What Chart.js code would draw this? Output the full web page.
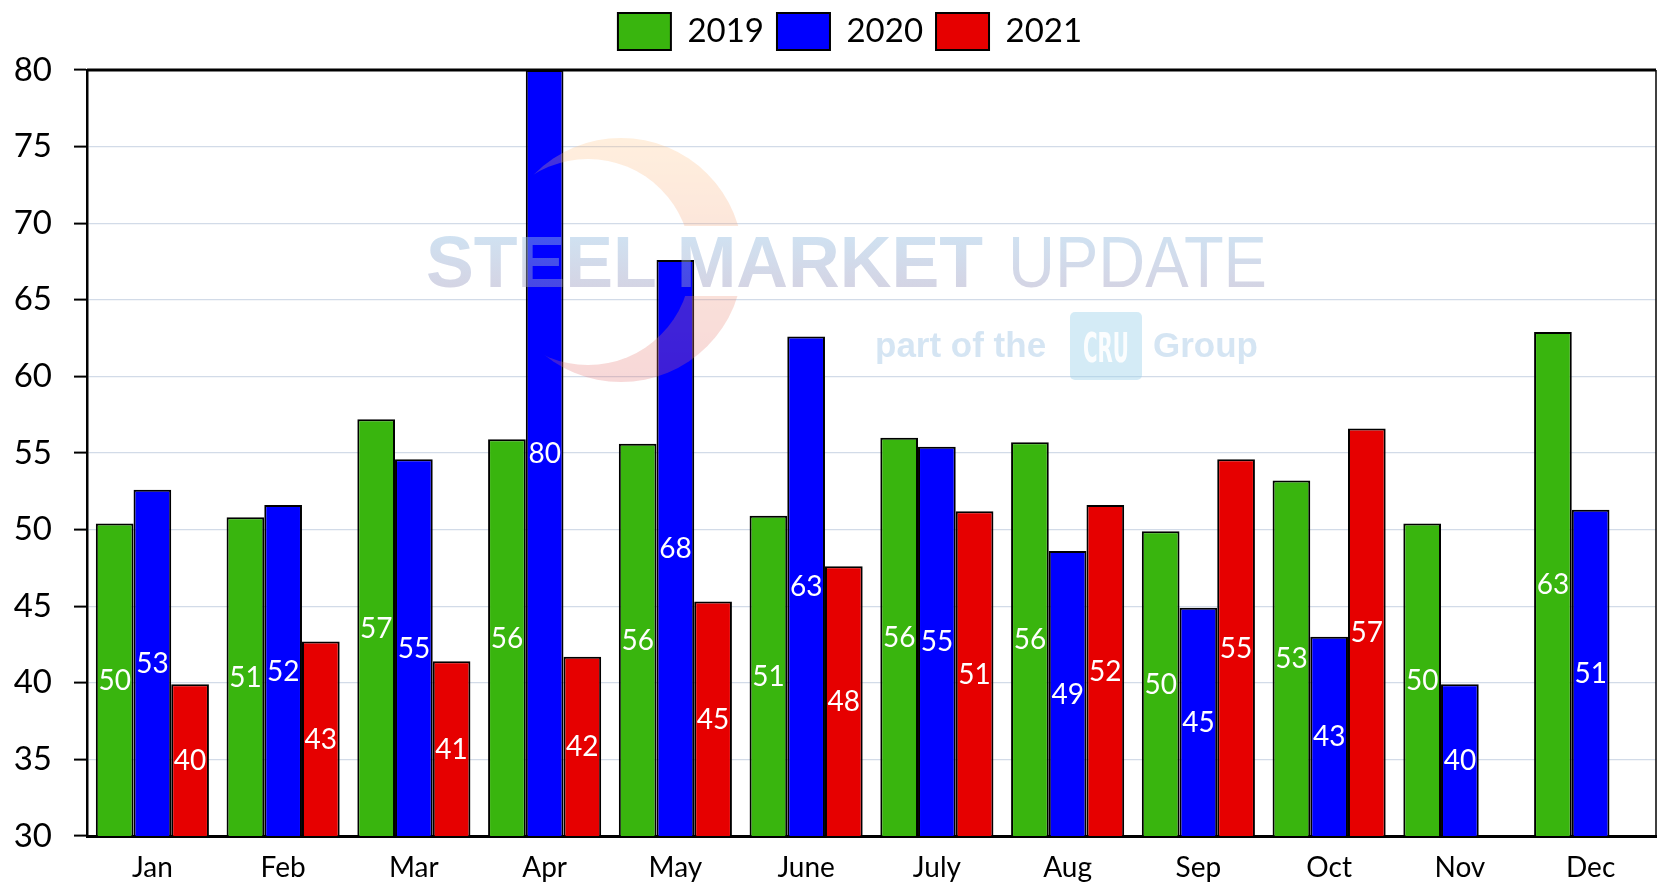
<!DOCTYPE html>
<html>
<head>
<meta charset="utf-8">
<script src="https://cdn.jsdelivr.net/npm/chart.js@4.4.1/dist/chart.umd.min.js"></script>
<style>
  html, body { margin: 0; padding: 0; background: #fff; }
  #wrap { width: 1658px; height: 885px; }
</style>
</head>
<body>
<div id="wrap"><canvas id="salesChart" width="1658" height="885"></canvas></div>
<script>
// chart data
const months = ["Jan", "Feb", "Mar", "Apr", "May", "June", "July", "Aug", "Sep", "Oct", "Nov", "Dec"];
const years = ["2019", "2020", "2021"];
const values2019 = [50.4, 50.8, 57.2, 55.9, 55.6, 50.9, 56.0, 55.7, 49.9, 53.2, 50.4, 62.9];
const values2020 = [52.6, 51.6, 54.6, 80.0, 67.6, 62.6, 55.4, 48.6, 44.9, 43.0, 39.9, 51.3];
const values2021 = [39.9, 42.7, 41.4, 41.7, 45.3, 47.6, 51.2, 51.6, 54.6, 56.6, null, null];
const yTicks = [30, 35, 40, 45, 50, 55, 60, 65, 70, 75, 80];

const FONT = "Lato, 'Open Sans', sans-serif";

// crescent of the logo, built off screen so the hole is really empty
function makeCrescent() {
    const c = document.createElement("canvas");
    c.width = 300;
    c.height = 300;
    const o = c.getContext("2d");
    const g = o.createLinearGradient(0, 28, 0, 273);
    g.addColorStop(0, "rgb(255,195,130)");
    g.addColorStop(1, "rgb(225,110,110)");
    o.fillStyle = g;
    o.beginPath();
    o.arc(141, 150, 122, 0, Math.PI * 2);
    o.fill();
    o.globalCompositeOperation = "destination-out";
    o.beginPath();
    o.arc(108, 152, 103, 0, Math.PI * 2);
    o.fill();
    // gap where the lettering runs
    o.fillRect(0, 116, 300, 70);
    return c;
}
const crescent = makeCrescent();

// watermark drawn over the bars, semi transparent
const watermark = {
    id: "watermark",
    afterDatasetsDraw(chart) {
        const ctx = chart.ctx;
        ctx.save();

        ctx.globalAlpha = 0.27;
        ctx.drawImage(crescent, 480, 110);
        ctx.globalAlpha = 1;

        const tg = ctx.createLinearGradient(0, 235, 0, 287);
        tg.addColorStop(0, "rgba(150,190,225,0.45)");
        tg.addColorStop(1, "rgba(160,160,195,0.45)");
        ctx.fillStyle = tg;
        ctx.textBaseline = "alphabetic";
        ctx.textAlign = "left";
        ctx.font = "bold 72px 'Liberation Sans', Arial, sans-serif";
        ctx.fillText("STEEL MARKET", 426, 287, 557);
        ctx.font = "300 72px 'Liberation Sans', Arial, sans-serif";
        ctx.fillText("UPDATE", 1008, 287, 259);

        ctx.fillStyle = "rgba(150,190,225,0.40)";
        ctx.font = "bold 35px 'Liberation Sans', Arial, sans-serif";
        ctx.fillText("part of the", 875, 357, 182);
        ctx.fillText("Group", 1153, 357, 107);

        // CRU badge
        ctx.fillStyle = "rgba(160,210,235,0.45)";
        ctx.beginPath();
        ctx.roundRect(1070, 312, 72, 68, 5);
        ctx.fill();
        ctx.fillStyle = "rgba(255,255,255,0.9)";
        ctx.font = "bold 40px 'DejaVu Sans Condensed', 'Liberation Sans Narrow', sans-serif";
        ctx.textAlign = "center";
        ctx.fillText("CRU", 1106, 362, 46);

        ctx.restore();
    }
};

// value labels in the middle of each bar
const barLabels = {
    id: "barLabels",
    afterDatasetsDraw(chart) {
        const ctx = chart.ctx;
        const bottom = chart.scales.y.getPixelForValue(chart.scales.y.min);
        ctx.save();
        ctx.font = "28px " + FONT;
        ctx.fillStyle = "#ffffff";
        ctx.textAlign = "center";
        ctx.textBaseline = "middle";
        chart.data.datasets.forEach((ds, i) => {
            const meta = chart.getDatasetMeta(i);
            meta.data.forEach((bar, j) => {
                const v = ds.data[j];
                if (v === null || v === undefined) return;
                const p = bar.getProps(["x", "y"], true);
                ctx.fillText(Math.round(v), p.x, (p.y + bottom) / 2 + 1);
            });
        });
        ctx.restore();
    }
};

// top and right frame lines
const frame = {
    id: "frame",
    afterDraw(chart) {
        const a = chart.chartArea;
        const ctx = chart.ctx;
        ctx.save();
        ctx.strokeStyle = "#000";
        ctx.lineWidth = 3;
        ctx.beginPath();
        ctx.moveTo(a.left, a.top);
        ctx.lineTo(a.right, a.top);
        ctx.stroke();
        ctx.lineWidth = 1.5;
        ctx.beginPath();
        ctx.moveTo(a.right, a.top);
        ctx.lineTo(a.right, a.bottom);
        ctx.stroke();
        ctx.restore();
    }
};

// a little more room under the legend, and nudge it right
const legendGap = {
    id: "legendGap",
    afterInit(chart) {
        const lg = chart.legend;
        if (!lg) return;
        const fit = lg.fit.bind(lg);
        lg.fit = function () {
            fit();
            this.height += 10;
        };
    },
    afterLayout(chart) {
        if (chart.legend) chart.legend.left += 44;
    }
};

function buildDataset(label, data, color) {
    return {
        label: label,
        data: data,
        backgroundColor: color,
        borderColor: "#000",
        borderWidth: 2,
        borderSkipped: "bottom",
        categoryPercentage: 0.865,
        barPercentage: 1.0
    };
}

const ctx = document.getElementById("salesChart").getContext("2d");

new Chart(ctx, {
    type: "bar",
    data: {
        labels: months,
        datasets: [
            buildDataset(years[0], values2019, "#39b50e"),
            buildDataset(years[1], values2020, "#0000ff"),
            buildDataset(years[2], values2021, "#e60000")
        ]
    },
    options: {
        responsive: false,
        animation: false,
        layout: { padding: { top: 0, right: 2, bottom: 0, left: 0 } },
        plugins: {
            legend: {
                display: true,
                position: "top",
                labels: {
                    boxWidth: 53,
                    boxHeight: 37,
                    padding: 13,
                    color: "#000",
                    font: { family: FONT, size: 33 }
                }
            },
            tooltip: { enabled: false }
        },
        scales: {
            x: {
                grid: { display: false, drawTicks: false },
                border: { display: true, color: "#000", width: 3 },
                ticks: { color: "#000", font: { family: FONT, size: 28 }, padding: 15 },
                afterFit(scale) { scale.height = 49; }
            },
            y: {
                min: 30,
                max: 80,
                afterBuildTicks(scale) { scale.ticks = yTicks.map(v => ({ value: v })); },
                grid: { color: "#d2dbe8", lineWidth: 1.2, tickLength: 13, tickColor: "#000", tickWidth: 2 },
                border: { display: true, color: "#000", width: 2.5 },
                ticks: { color: "#000", font: { family: FONT, size: 33 }, padding: 22 },
                afterFit(scale) { scale.width = 87; }
            }
        }
    },
    plugins: [legendGap, watermark, barLabels, frame]
});
</script>
</body>
</html>
